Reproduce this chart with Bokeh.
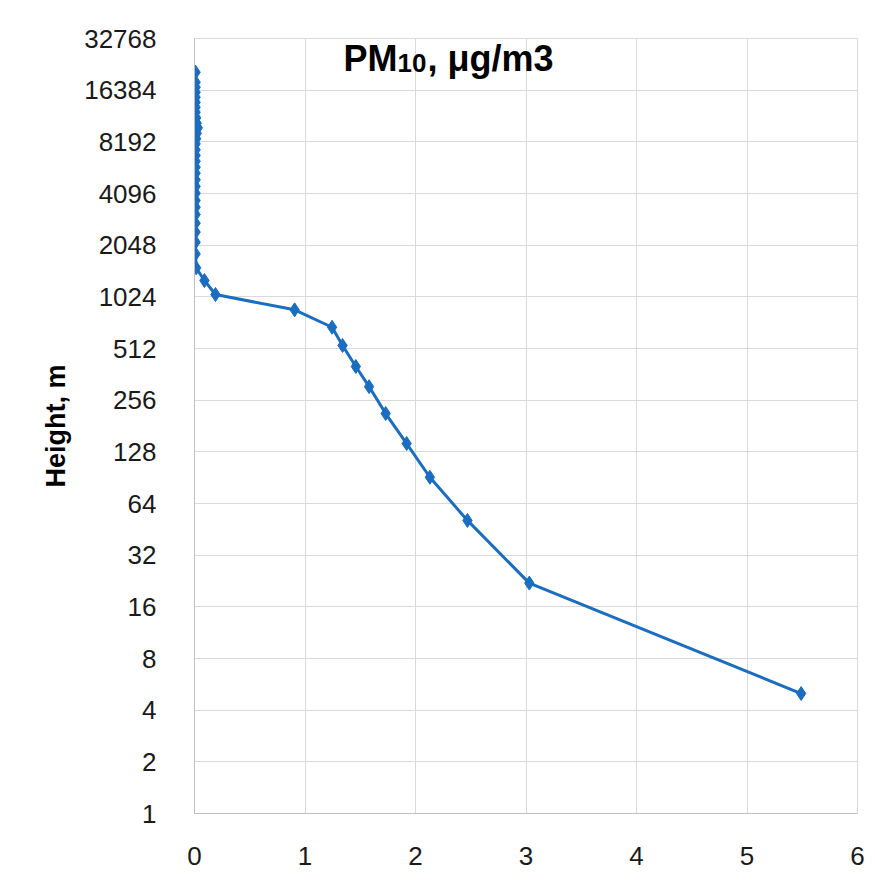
from bokeh.plotting import figure
from bokeh.models import FixedTicker, NumeralTickFormatter, Label, Range1d, ColumnDataSource
from bokeh.embed import file_html
from bokeh.resources import INLINE

# PM10 concentration (µg/m3) vs height (m)
concentration = [5.49, 3.03, 2.47, 2.13, 1.92, 1.73, 1.58, 1.46, 1.34, 1.245, 0.906, 0.19, 0.09, 0.015,
                 0.01, 0.01, 0.01, 0.01, 0.01, 0.01, 0.01, 0.01, 0.01, 0.01, 0.01, 0.01, 0.01, 0.01,
                 0.01, 0.01, 0.015, 0.02, 0.03, 0.02, 0.015, 0.01, 0.01, 0.01, 0.01, 0.01, 0.01, 0.01, 0.01]
height = [5, 22, 51, 91, 143, 214, 307, 402, 533, 681, 860, 1056, 1274, 1511,
          1820, 2130, 2440, 2750, 3090, 3410, 3730, 4110, 4500, 4920, 5380, 5830, 6310, 6820,
          7360, 7970, 8530, 9180, 9890, 10520, 11300, 12190, 13030, 13930, 14900, 15930, 17040, 18220, 20840]

y_ticks = [1, 2, 4, 8, 16, 32, 64, 128, 256, 512, 1024, 2048, 4096, 8192, 16384, 32768]
x_ticks = [0, 1, 2, 3, 4, 5, 6]
title_main = "PM"
title_sub = "10"
title_rest = ", \u03bcg/m3"
y_label = "Height, m"

src = ColumnDataSource(data=dict(x=concentration, y=height))

p = figure(width=867, height=873, y_axis_type="log", output_backend="svg", toolbar_location=None,
           x_range=Range1d(0, 6), y_range=Range1d(1, 32768),
           min_border_left=194, min_border_top=38, min_border_bottom=60, min_border_right=10)

p.background_fill_color = "white"
p.border_fill_color = "white"
p.outline_line_color = "#d9d9d9"

grid_color = "#d9d9d9"
p.xgrid.grid_line_color = grid_color
p.ygrid.grid_line_color = grid_color
p.xgrid.grid_line_width = 1
p.ygrid.grid_line_width = 1

p.xaxis.ticker = FixedTicker(ticks=x_ticks)
p.yaxis.ticker = FixedTicker(ticks=y_ticks)
p.yaxis.formatter = NumeralTickFormatter(format="0")

for ax in (p.xaxis[0], p.yaxis[0]):
    ax.axis_line_color = "#bfbfbf"
    ax.major_tick_line_color = None
    ax.minor_tick_line_color = None
    ax.major_label_text_font = "Liberation Sans"
    ax.major_label_text_font_size = "26px"
    ax.major_label_text_color = "#1a1a1a"
p.yaxis.major_label_standoff = 32
p.xaxis.major_label_standoff = 27

p.yaxis.axis_label = y_label
p.yaxis.axis_label_text_font = "Liberation Sans"
p.yaxis.axis_label_text_font_style = "bold"
p.yaxis.axis_label_text_font_size = "27px"
p.yaxis.axis_label_text_color = "#000000"
p.yaxis.axis_label_standoff = 10

line_color = "#1a6dbf"
p.line("x", "y", source=src, line_color=line_color, line_width=3)
p.scatter("x", "y", source=src, marker="diamond", size=14, fill_color=line_color, line_color=line_color)

common = dict(text_align="left", text_baseline="alphabetic", text_font="Liberation Sans",
              text_font_style="bold", text_color="#000000")
p.add_layout(Label(x=1.348, y=25030, text=title_main, text_font_size="36px", **common))
p.add_layout(Label(x=1.348, y=23740, x_offset=54, text=title_sub, text_font_size="26px", **common))
p.add_layout(Label(x=1.348, y=25030, x_offset=84, text=title_rest, text_font_size="36px", **common))

open("out.html", "w").write(file_html(p, INLINE))
